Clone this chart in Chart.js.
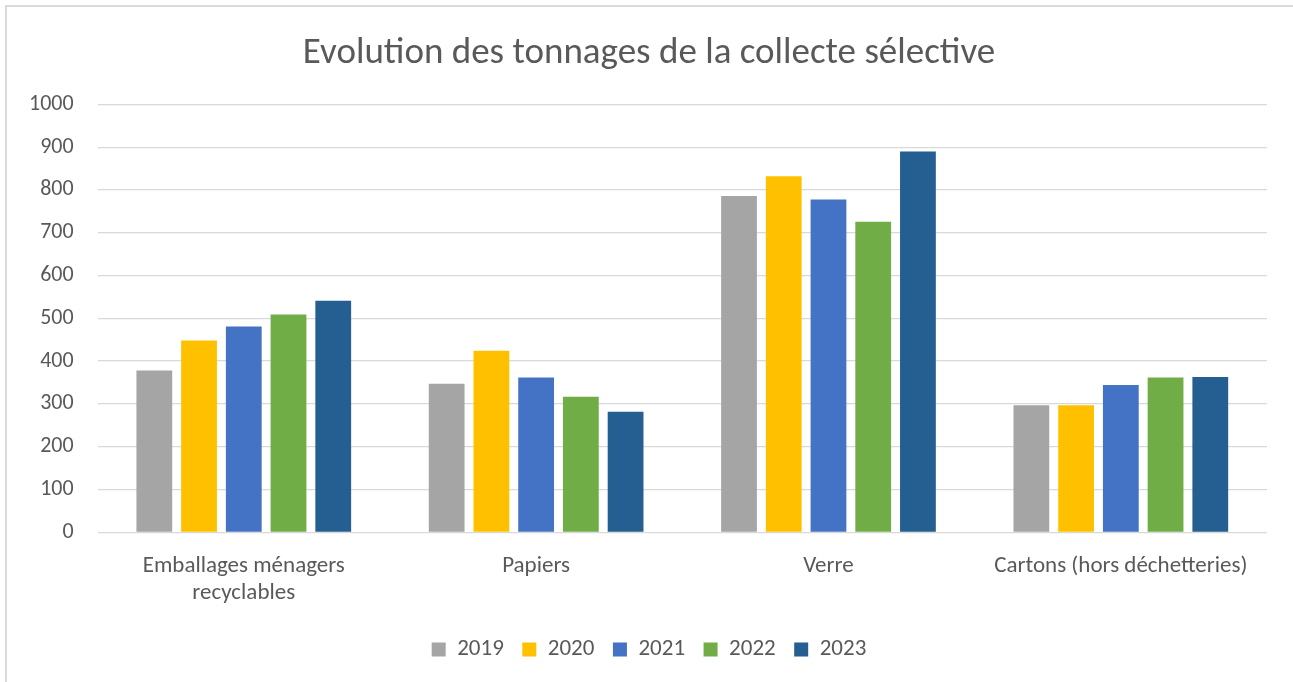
<!DOCTYPE html>
<html>
<head>
<meta charset="utf-8">
<script src="https://cdn.jsdelivr.net/npm/chart.js@4/dist/chart.umd.min.js"></script>
<style>
  html, body { margin: 0; padding: 0; background: #fff; }
  #frame { position: absolute; left: 5px; top: 5px; width: 1300px; height: 690px; border: 2px solid #d9d9d9; box-sizing: border-box; }
  #chart { position: absolute; left: 0; top: 0; }
</style>
</head>
<body>
<div id="frame"></div>
<canvas id="chart" width="1293" height="682"></canvas>
<script>
var categories = [['Emballages ménagers', 'recyclables'], 'Papiers', 'Verre', 'Cartons (hors déchetteries)'];
var years = ['2019', '2020', '2021', '2022', '2023'];
var colors = ['#a5a5a5', '#ffc000', '#4472c4', '#70ad47', '#255e91'];

var v2019 = [378, 347, 786, 297];
var v2020 = [448, 424, 832, 297];
var v2021 = [481, 362, 778, 344];
var v2022 = [509, 317, 726, 362];
var v2023 = [541, 282, 890, 363];

var yTicks = [0, 100, 200, 300, 400, 500, 600, 700, 800, 900, 1000];

var series = [v2019, v2020, v2021, v2022, v2023];
var datasets = [];
for (var i in series) {
  datasets.push({
    label: years[i],
    data: series[i],
    backgroundColor: colors[i],
    borderWidth: 0,
    categoryPercentage: 0.765,
    barPercentage: 0.8
  });
}

var font = 'Carlito, Calibri, Lato, sans-serif';
var grey = '#595959';

new Chart(document.getElementById('chart'), {
  type: 'bar',
  data: { labels: categories, datasets: datasets },
  options: {
    responsive: false,
    animation: false,
    layout: { padding: { left: 5, right: 0, top: 14, bottom: 11 } },
    plugins: {
      title: {
        display: true,
        text: 'Evolution des tonnages de la collecte sélective',
        color: grey,
        font: { family: font, size: 37, weight: 'normal' },
        padding: { top: 18, bottom: 28 }
      },
      legend: {
        position: 'bottom',
        labels: {
          color: grey,
          font: { family: font, size: 23 },
          boxWidth: 14,
          boxHeight: 14,
          padding: 18.5
        }
      },
      tooltip: { enabled: false }
    },
    scales: {
      x: {
        grid: { display: false },
        border: { display: false },
        ticks: { color: grey, font: { family: font, size: 23 }, padding: 12, maxRotation: 0, autoSkip: false }
      },
      y: {
        min: 0,
        max: 1000,
        afterBuildTicks: function(axis) { axis.ticks = yTicks.map(function(v) { return { value: v }; }); },
        grid: { color: '#d9d9d9', lineWidth: 1.3, drawTicks: false },
        border: { display: false },
        ticks: { color: grey, font: { family: font, size: 22 }, padding: 24, callback: function(v) { return String(v); } }
      },
      // empty right axis, only keeps the plot clear of the right edge
      yr: {
        position: 'right',
        grid: { display: false },
        border: { display: false },
        ticks: { display: false },
        afterFit: function(axis) { axis.width = 26; }
      }
    }
  }
});
</script>
</body>
</html>
